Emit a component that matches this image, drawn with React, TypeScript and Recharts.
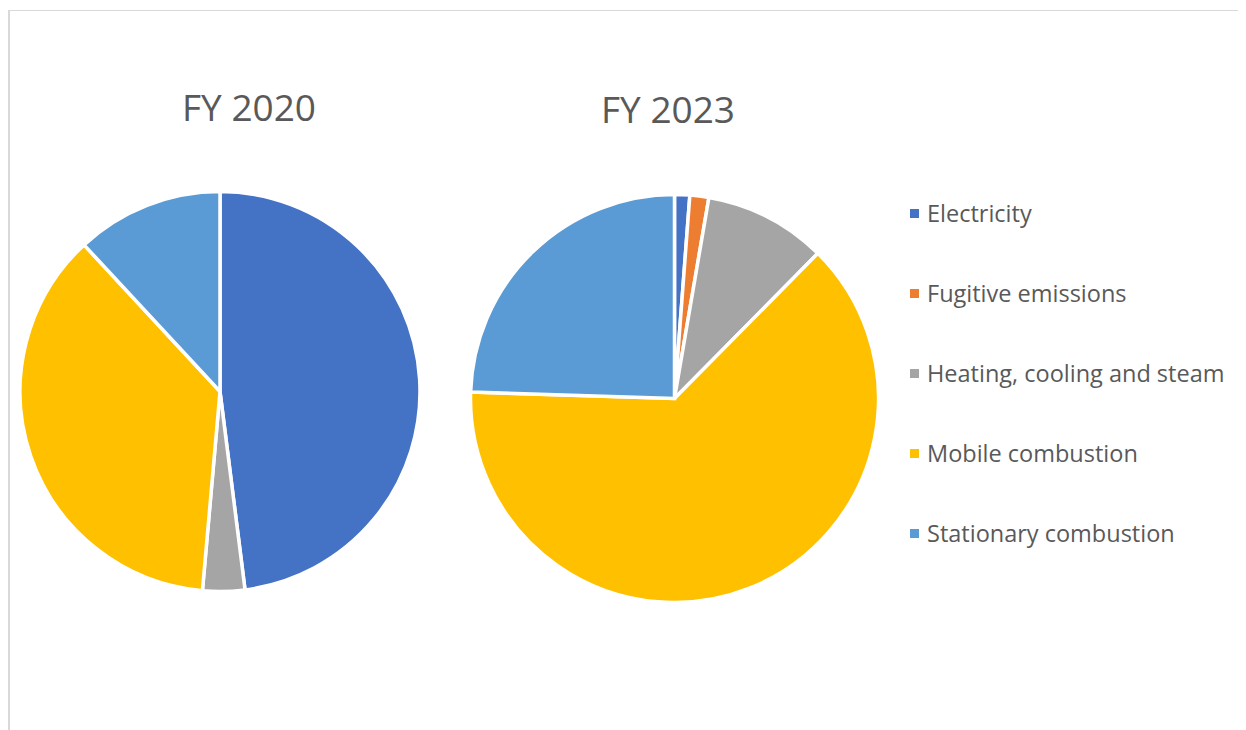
import { Pie, PieChart, Cell } from "recharts";

const categories = [
  "Electricity",
  "Fugitive emissions",
  "Heating, cooling and steam",
  "Mobile combustion",
  "Stationary combustion",
];
const fy2020 = [48.0, 0, 3.4, 36.7, 11.9];
const fy2023 = [1.2, 1.5, 9.7, 63.1, 24.5];
const colors = ["#4472C4", "#ED7D31", "#A5A5A5", "#FFC000", "#5B9BD5"];

const data2020 = categories.map((name, i) => ({ name, value: fy2020[i] }));
const data2023 = categories.map((name, i) => ({ name, value: fy2023[i] }));

const font = "'Open Sans', sans-serif";
const textColor = "#595959";

export default function App() {
  return (
    <div style={{ position: "relative", width: 1238, height: 722, overflow: "hidden", fontFamily: font }}>
      <div
        style={{
          position: "absolute",
          left: 0,
          top: 2,
          width: 1400,
          height: 900,
          borderLeft: "2px solid #d9d9d9",
          borderTop: "1px solid #d9d9d9",
        }}
      />
      <PieChart
        width={1238}
        height={722}
        margin={{ top: 0, right: 0, bottom: 0, left: 0 }}
        style={{ position: "absolute", left: 0, top: 0 }}
      >
        <Pie
          data={data2020}
          dataKey="value"
          nameKey="name"
          cx={212}
          cy={383.5}
          outerRadius={200}
          startAngle={90}
          endAngle={-270}
          stroke="#ffffff"
          strokeWidth={3.5}
          isAnimationActive={false}
        >
          {data2020.map((d, i) => (
            <Cell key={d.name} fill={colors[i]} />
          ))}
        </Pie>
        <Pie
          data={data2023}
          dataKey="value"
          nameKey="name"
          cx={666.5}
          cy={390.5}
          outerRadius={204}
          startAngle={90}
          endAngle={-270}
          stroke="#ffffff"
          strokeWidth={3.5}
          isAnimationActive={false}
        >
          {data2023.map((d, i) => (
            <Cell key={d.name} fill={colors[i]} />
          ))}
        </Pie>
      </PieChart>
      <div style={{ position: "absolute", left: 141, top: 73, width: 200, textAlign: "center", fontSize: 37, color: textColor }}>
        FY 2020
      </div>
      <div style={{ position: "absolute", left: 560, top: 75, width: 200, textAlign: "center", fontSize: 37, color: textColor }}>
        FY 2023
      </div>
      {categories.map((name, i) => (
        <div
          key={name}
          style={{
            position: "absolute",
            left: 902,
            top: 188 + i * 80,
            height: 34,
            display: "flex",
            alignItems: "center",
            fontSize: 23.5,
            color: textColor,
            whiteSpace: "nowrap",
          }}
        >
          <span style={{ display: "inline-block", width: 9, height: 9, background: colors[i], marginRight: 8 }} />
          {name}
        </div>
      ))}
    </div>
  );
}
